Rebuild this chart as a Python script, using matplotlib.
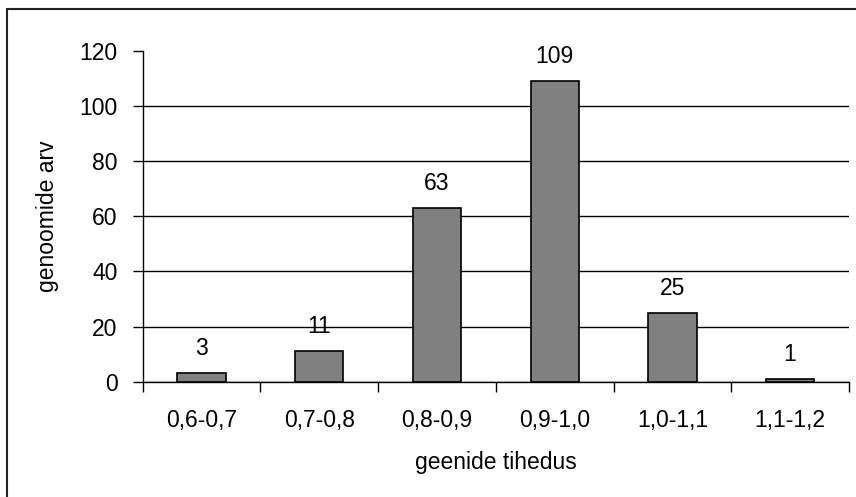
import numpy as np
import matplotlib
matplotlib.use("Agg")
import matplotlib.pyplot as plt
from matplotlib.patches import Rectangle

# data
categories = ['0,6-0,7', '0,7-0,8', '0,8-0,9', '0,9-1,0', '1,0-1,1', '1,1-1,2']
counts = [3, 11, 63, 109, 25, 1]
y_ticks = [0, 20, 40, 60, 80, 100, 120]

plt.rcParams['font.family'] = ['Liberation Sans', 'DejaVu Sans']
fs = 16.5

fig = plt.figure(figsize=(8.56, 4.97), dpi=100)
ax = fig.add_axes([0.1667, 0.232, 0.8251, 0.666])

x = np.arange(len(categories))
bars = ax.bar(x, counts, width=0.41, color='#808080', edgecolor='black', linewidth=1.2, zorder=3)

# value labels above bars
for xi, v in zip(x, counts):
    ax.annotate(str(v), (xi, v), xytext=(0, 13), textcoords='offset points',
                ha='center', va='baseline', fontsize=fs)

ax.set_xlim(-0.5, len(categories) - 0.5)
ax.set_ylim(0, 120)
ax.set_yticks(y_ticks)
ax.tick_params(axis='y', direction='out', length=7, width=1, pad=11, labelsize=fs)

# category labels centred, tick marks between categories
ax.set_xticks(x)
ax.set_xticklabels(categories)
ax.tick_params(axis='x', which='major', length=0, pad=20, labelsize=fs)
ax.set_xticks(np.arange(-0.5, len(categories)), minor=True)
ax.tick_params(axis='x', which='minor', direction='out', length=7, width=1)

ax.yaxis.grid(True, color='black', linewidth=1, zorder=0)
ax.get_ygridlines()[-1].set_visible(False)
ax.set_axisbelow(True)

for s in ['top', 'right']:
    ax.spines[s].set_visible(False)
ax.spines['left'].set_linewidth(1)
ax.spines['bottom'].set_linewidth(1)

ax.set_xlabel('geenide tihedus', fontsize=fs, labelpad=13)
ax.set_ylabel('genoomide arv', fontsize=fs, labelpad=15)

# outer chart border (right and bottom fall outside the image)
fig.patches.append(Rectangle((7.5 / 856, -0.1), 1.2, 1.1 - 8.5 / 497, transform=fig.transFigure,
                             fill=False, edgecolor='#222222', linewidth=1.5))

fig.savefig('out.png', dpi=100)
